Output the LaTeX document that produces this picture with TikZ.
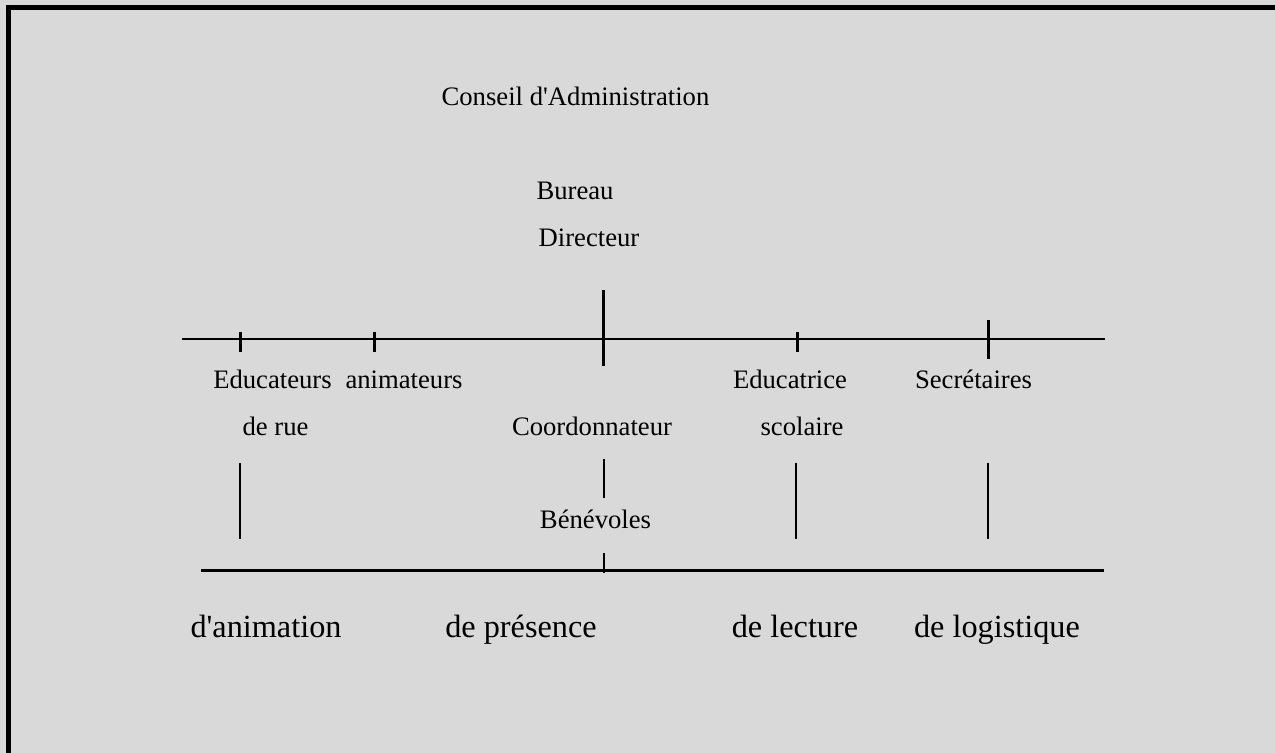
\documentclass[tikz,border=0pt]{standalone}
\usepackage{fontspec}
\setmainfont{Liberation Serif}
\definecolor{fond}{RGB}{217,217,217}
\begin{document}
\begin{tikzpicture}[x=.75pt,y=-.75pt,font=\fontsize{20}{24}\selectfont,
	lbl/.style={anchor=base,inner sep=0pt},
	grand/.style={lbl,font=\fontsize{24.2}{29}\selectfont}]
	\def\yh{339} % ligne du haut
	\def\yb{570} % ligne du bas
	\useasboundingbox (0,0) rectangle (1275,753);
	\clip (0,0) rectangle (1275,753);
	\fill[fond] (0,0) rectangle (1275,753);
	\draw[line width=3.75pt] (8.5,7.5) rectangle (1277,775);
	% en-tete
	\node[lbl] (ca) at (575.5,105) {Conseil d\textquotesingle Administration};
	\node[lbl] (bureau) at (575,199) {Bureau};
	\node[lbl] (dir) at (589,246) {Directeur};
	% ligne du haut et traits
	\draw[line width=1.5pt] (182,\yh) -- (1105,\yh);
	\foreach \x in {240,374,797}
		\draw[line width=2.25pt] (\x,332) -- (\x,352);
	\draw[line width=2.25pt] (603,290) -- (603,366);
	\draw[line width=2.25pt] (988,320) -- (988,359);
	% postes
	\node[lbl] (educ) at (272.5,388) {Educateurs};
	\node[lbl] (rue) at (275.5,435) {de rue};
	\node[lbl] (anim) at (404,388) {animateurs};
	\node[lbl] (coord) at (592,435) {Coordonnateur};
	\node[lbl] (educt) at (790,388) {Educatrice};
	\node[lbl] (scol) at (802,435) {scolaire};
	\node[lbl] (secr) at (973.5,388) {Secrétaires};
	\node[lbl] (benev) at (595.5,528) {Bénévoles};
	% traits vers la ligne du bas
	\foreach \x in {240,796,988}
		\draw[line width=1.8pt] (\x,463) -- (\x,539);
	\draw[line width=1.8pt] (604,459) -- (604,498);
	\draw[line width=1.8pt] (604,553) -- (604,573);
	\draw[line width=2.25pt] (201,\yb) -- (1104,\yb);
	% poles
	\node[grand] (panim) at (266,637) {d\textquotesingle animation};
	\node[grand] (ppres) at (521,637) {de présence};
	\node[grand] (plect) at (795,637) {de lecture};
	\node[grand] (plog) at (997,637) {de logistique};
\end{tikzpicture}
\end{document}
